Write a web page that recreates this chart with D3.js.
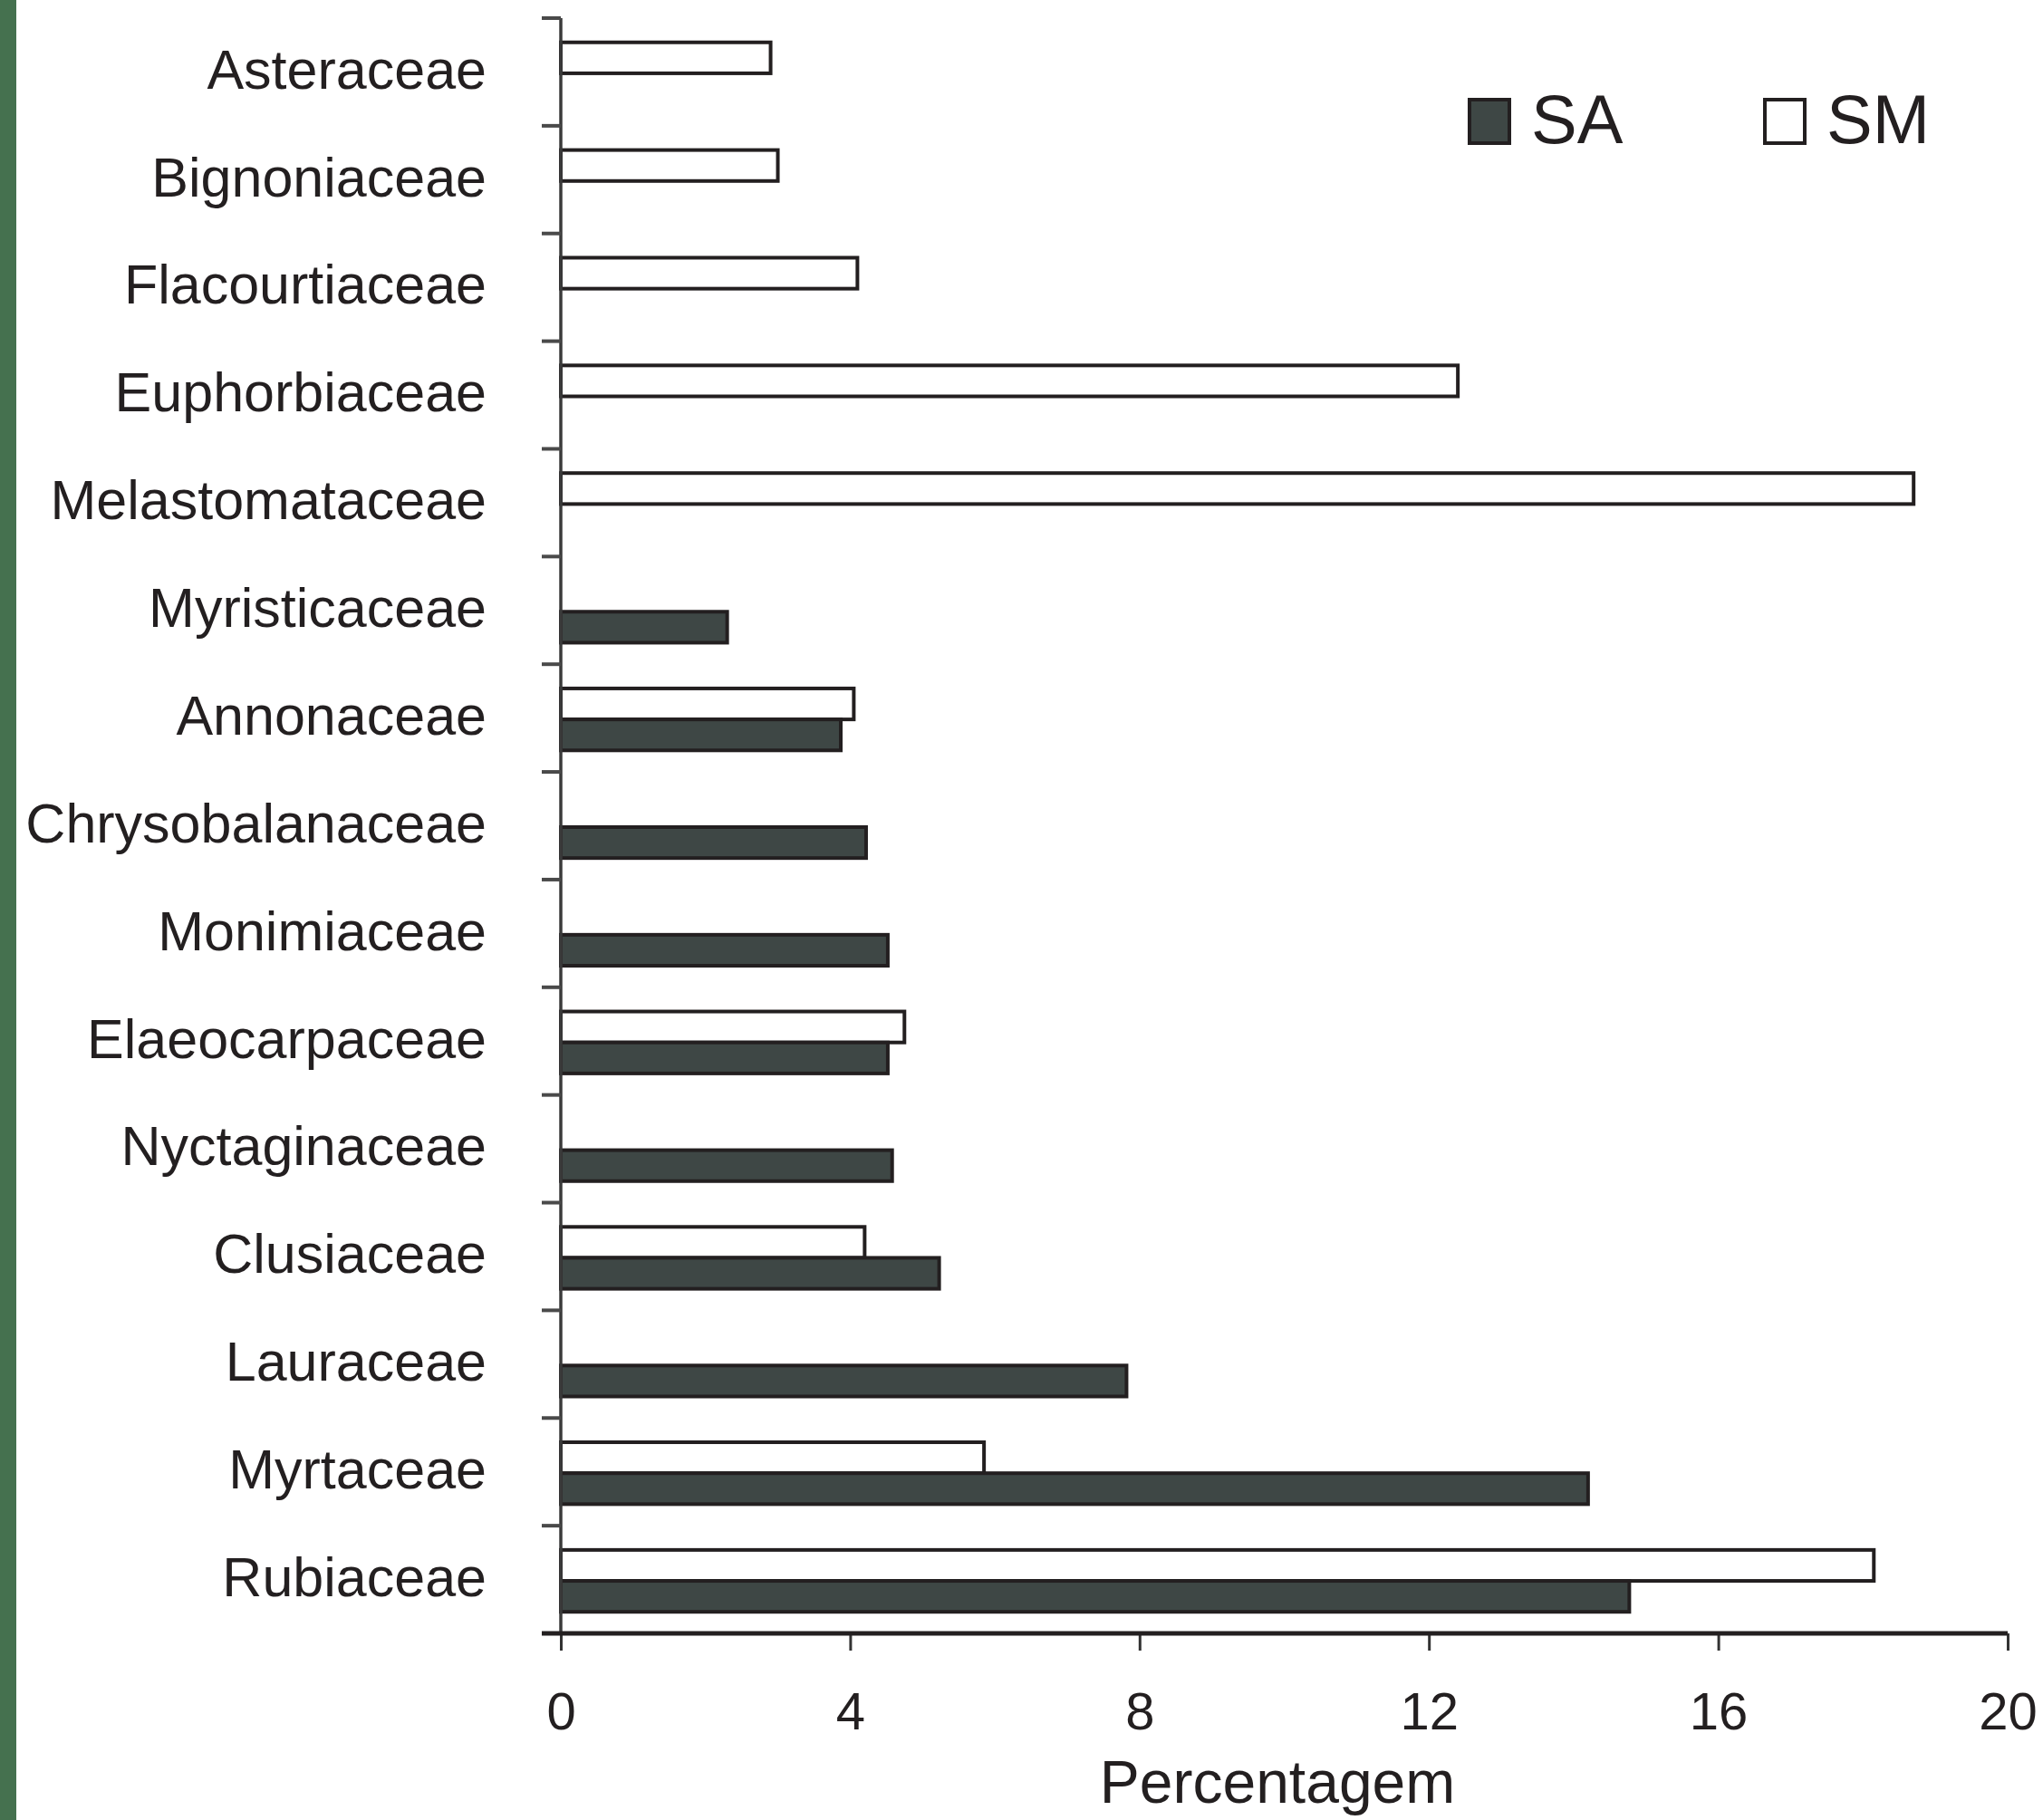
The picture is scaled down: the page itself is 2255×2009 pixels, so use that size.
<!DOCTYPE html>
<html>
<head>
<meta charset="utf-8">
<script src="https://cdn.jsdelivr.net/npm/d3@7/dist/d3.min.js"></script>
<style>
  html, body { margin: 0; padding: 0; background: #ffffff; }
  svg { display: block; }
  text { font-family: "Liberation Sans", Arial, sans-serif; fill: #231f20; }
</style>
</head>
<body>
<svg id="chart" width="2255" height="2009"></svg>
<script>
// ---- Data ----
const categories = ["Asteraceae","Bignoniaceae","Flacourtiaceae","Euphorbiaceae","Melastomataceae",
  "Myristicaceae","Annonaceae","Chrysobalanaceae","Monimiaceae","Elaeocarpaceae",
  "Nyctaginaceae","Clusiaceae","Lauraceae","Myrtaceae","Rubiaceae"];
const seriesNames = ["SM","SA"];
const smValues = [2.9, 3.0, 4.1, 12.4, 18.7, 0, 4.05, 0, 0, 4.75, 0, 4.2, 0, 5.85, 18.15];
const saValues = [0, 0, 0, 0, 0, 2.3, 3.87, 4.22, 4.52, 4.52, 4.58, 5.23, 7.82, 14.2, 14.77];
const xTicks = [0, 4, 8, 12, 16, 20];
const xTitle = "Percentagem";
const legendItems = ["SA","SM"];

// ---- Layout ----
const svg = d3.select("#chart");
const W = 2255, H = 2009;
const plot = {left: 619, right: 2216, top: 20, bottom: 1803};
const dark = "#3e4745", ink = "#231f20";

// left green stripe
svg.append("rect").attr("x", 0).attr("y", 0).attr("width", 18).attr("height", H).attr("fill", "#45714f");

const x = d3.scaleLinear().domain([0, 20]).range([plot.left, plot.right]);
const y = d3.scaleBand().domain(categories).range([plot.top, plot.bottom]).padding(0);
const sub = d3.scaleBand().domain(seriesNames)
  .range([y.bandwidth() * 0.225, y.bandwidth() * 0.80]).padding(0);

const rows = categories.map((c, i) => ({cat: c, SM: smValues[i], SA: saValues[i]}));

// bars
const g = svg.append("g");
rows.forEach(r => {
  seriesNames.forEach(s => {
    if (r[s] > 0) {
      g.append("rect")
        .attr("x", x(0))
        .attr("y", y(r.cat) + sub(s))
        .attr("width", x(r[s]) - x(0))
        .attr("height", sub.bandwidth())
        .attr("fill", s === "SA" ? dark : "#ffffff")
        .attr("stroke", ink)
        .attr("stroke-width", 4);
    }
  });
});

// y axis line and category ticks
svg.append("line").attr("x1", plot.left).attr("x2", plot.left)
  .attr("y1", plot.top).attr("y2", plot.bottom)
  .attr("stroke", "#3a3a3a").attr("stroke-width", 3.5);
const boundaries = categories.map(c => y(c)).concat([plot.bottom]);
svg.append("g").selectAll("line").data(boundaries).join("line")
  .attr("x1", plot.left - 21).attr("x2", plot.left)
  .attr("y1", d => d).attr("y2", d => d)
  .attr("stroke", "#4a4a4a").attr("stroke-width", 4);

// category labels
svg.append("g").selectAll("text").data(categories).join("text")
  .attr("x", 537)
  .attr("y", d => y(d) + y.bandwidth() / 2)
  .attr("dy", "0.3em")
  .attr("text-anchor", "end")
  .attr("font-size", 61)
  .text(d => d);

// x axis
const xAxis = d3.axisBottom(x).tickValues(xTicks).tickSize(19).tickPadding(46).tickFormat(d3.format("d"));
const xg = svg.append("g").attr("transform", `translate(0,${plot.bottom})`).call(xAxis);
xg.select(".domain").remove();
xg.selectAll(".tick line").attr("stroke", "#333").attr("stroke-width", 3);
xg.selectAll(".tick text").attr("font-size", 58).attr("fill", ink)
  .attr("font-family", "Liberation Sans, Arial, sans-serif");
svg.append("line").attr("x1", plot.left - 21).attr("x2", plot.right)
  .attr("y1", plot.bottom).attr("y2", plot.bottom)
  .attr("stroke", ink).attr("stroke-width", 5);

// x title
svg.append("text").attr("x", 1410).attr("y", 1990)
  .attr("text-anchor", "middle").attr("font-size", 66).text(xTitle);

// legend
const legX = d3.scaleOrdinal().domain(legendItems).range([1620, 1946]);
const leg = svg.append("g").selectAll("g").data(legendItems).join("g")
  .attr("transform", d => `translate(${legX(d)},108)`);
leg.append("rect").attr("x", 2).attr("y", 2).attr("width", 44).attr("height", 48)
  .attr("fill", d => d === "SA" ? dark : "#ffffff")
  .attr("stroke", ink).attr("stroke-width", 4);
leg.append("text").attr("x", 70).attr("y", 50).attr("font-size", 76).text(d => d);
</script>
</body>
</html>
